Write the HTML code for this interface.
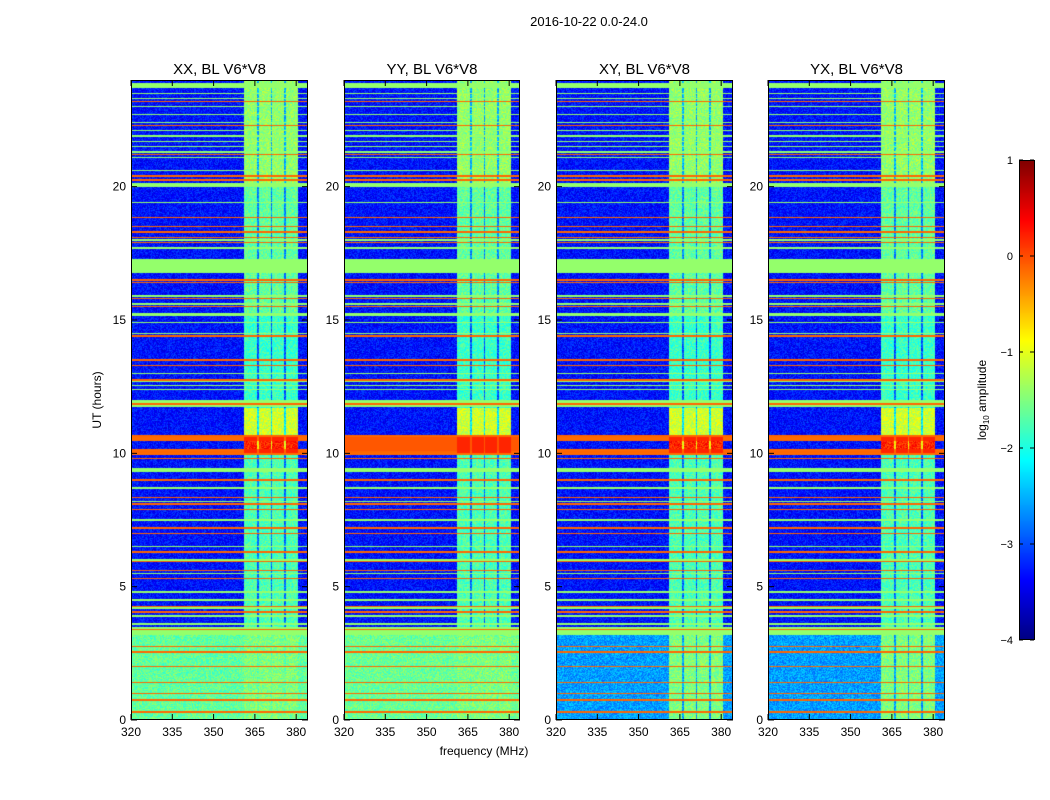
<!DOCTYPE html>
<html><head><meta charset="utf-8">
<style>
body{margin:0;background:#fff;width:1050px;height:800px;overflow:hidden;position:relative;font-family:"Liberation Sans","DejaVu Sans",sans-serif;}
canvas{position:absolute;}
svg{position:absolute;left:0;top:0;}
</style></head><body>
<canvas id="p0" width="177" height="640" style="left:131px;top:80px"></canvas>
<canvas id="p1" width="176" height="640" style="left:344px;top:80px"></canvas>
<canvas id="p2" width="177" height="640" style="left:556px;top:80px"></canvas>
<canvas id="p3" width="177" height="640" style="left:768px;top:80px"></canvas>
<canvas id="cb" width="15" height="480" style="left:1019px;top:160px"></canvas>
<svg id="ax" width="1050" height="800"></svg>
<script>
// ---- data ----
const panelNames = ["XX, BL V6*V8","YY, BL V6*V8","XY, BL V6*V8","YX, BL V6*V8"];
const panelLeft = [131,344,556,768];
const freqTicks = [320,335,350,365,380];
const hourTicks = [0,5,10,15,20];
const cbTicks = [1,0,-1,-2,-3,-4];
const bgLevel = -3.3;
// wide bands [startHour, endHour, level]
const wideBands = [[23.7,23.8,-1.4],[20.0,20.15,-1.4],[16.75,17.3,-1.4],[15.15,15.25,-1.4],[11.75,12.0,-1.4],[9.3,9.45,-1.4],[10.45,10.7,-0.15],[9.95,10.15,-0.15],[3.2,3.5,-1.4]];
// lower region level per panel
const lowRegionLevel = [-1.65,-1.6,-2.6,-2.6];
const lowRegionTop = 3.3;
// YY extra strong band
const yyBand = [10.0,10.65,-0.05];
const greenLines = [23.85,23.5,23.3,23.0,22.7,22.4,22.1,21.9,21.7,21.5,21.3,21.1,20.6,19.4,18.3,18.0,17.7,15.9,15.6,14.9,14.5,13.3,13.0,12.7,12.55,12.4,9.0,8.7,8.2,7.9,7.5,7.2,6.5,6.0,5.5,4.8,4.5,4.2,3.9,3.6];
const redLines = [23.2,22.3,21.2,20.4,20.25,18.85,18.5,18.3,18.1,17.9,16.5,16.4,15.8,15.5,14.4,13.5,13.3,12.75,11.85,10.65,10.05,9.8,9.0,8.35,8.1,7.9,7.2,7.0,6.3,5.95,5.6,5.3,4.25,4.05,3.4,2.75,2.55,2.0,1.4,1.0,0.75,0.3];
// RFI columns [startMHz,endMHz]
const rfiCols = [[361,365.5],[366.2,370.5],[371.2,375.3],[376,380.3]];
// RFI level by hour [start,end,level]
const rfiLevels = [[0,3.3,-1.5],[3.3,10.0,-1.75],[10.0,10.6,0.2],[10.6,11.7,-1.1],[11.7,15.2,-1.85],[15.2,20.0,-1.65],[20.0,24,-1.4]];

// ---- helpers ----
function jet(v){const t=Math.max(0,Math.min(1,(v+4)/5));const c=x=>Math.round(255*Math.max(0,Math.min(1,x)));
return [c(1.5-Math.abs(4*t-3)),c(1.5-Math.abs(4*t-2)),c(1.5-Math.abs(4*t-1))];}
const H=640, hourToY=h=>(24-h)/24*H;
function hash(a,b){let x=(a*374761393+b*668265263)|0;x=(x^(x>>>13))*1274126177|0;return ((x^(x>>>16))>>>0)/4294967296;}
function draw(p){
 const cv=document.getElementById('p'+p),ctx=cv.getContext('2d'),W=cv.width;
 const img=ctx.createImageData(W,H);
 const fx=f=>(f-320)*2.753;
 for(let y=0;y<H;y++){
  const h=24-(y+0.5)/H*24;
  let lv=bgLevel, row=false;
  if(h<lowRegionTop) lv=lowRegionLevel[p];
  for(const b of wideBands) if(h>=b[0]&&h<b[1]){lv=b[2];row=true;}
  if(p==1&&h>=yyBand[0]&&h<yyBand[1]){lv=yyBand[2];row=true;}
  for(const g of greenLines) if(Math.abs(h-g)<0.028){lv=-1.4;row=true;}
  for(const r of redLines) if(Math.abs(h-r)<0.028){lv=-0.12;row=true;}
  let rl=-1.7; for(const r of rfiLevels) if(h>=r[0]&&h<r[1]) rl=r[2];
  if(p>=2&&rl>-0.5&&!(h>=10.0&&h<10.6)) rl=-1.7;
  for(let x=0;x<W;x++){
   let v=lv, inR=false;
   for(const c of rfiCols) if(x>=fx(c[0])&&x<fx(c[1])) inR=true;
   if(inR) v=Math.max(v,rl);
   else if(!row && x>=fx(rfiCols[0][0]) && x<fx(rfiCols[3][1])) v=Math.max(v,rl-1.1);
   if(!row){const n=hash(x+p*1000,y);v+= (n-0.5)*0.6;}
   const col=jet(v),i=(y*W+x)*4;
   img.data[i]=col[0];img.data[i+1]=col[1];img.data[i+2]=col[2];img.data[i+3]=255;
  }
 }
 ctx.putImageData(img,0,0);
}
for(let p=0;p<4;p++) draw(p);
// colorbar
(function(){const c=document.getElementById('cb').getContext('2d');
for(let y=0;y<480;y++){const v=1-y/480*5;const k=jet(v);c.fillStyle=`rgb(${k[0]},${k[1]},${k[2]})`;c.fillRect(0,y,15,1);}})();

// ---- axes svg ----
const svg=document.getElementById('ax'),NS="http://www.w3.org/2000/svg";
function el(tag,attrs,text){const e=document.createElementNS(NS,tag);for(const k in attrs)e.setAttribute(k,attrs[k]);if(text!==undefined)e.textContent=text;svg.appendChild(e);return e;}
let t=el('text',{x:589,y:26,'font-size':13,'text-anchor':'middle'},'2016-10-22 0.0-24.0');


for(let p=0;p<4;p++){
 const L=panelLeft[p],W=(p==1?176:177),T=80,B=720;
 const fr=el('rect',{x:L+0.5,y:T+0.5,width:W-1,height:639,fill:'none',stroke:'#000'});
 
 
 const tt=el('text',{x:L+W/2,y:74,'font-size':15,'text-anchor':'middle'},panelNames[p]);
 
 
 for(const f of freqTicks){const x=L+(f-320)*2.753;
  el('line',{x1:x,x2:x,y1:B,y2:B-6,stroke:'#000'});el('line',{x1:x,x2:x,y1:T,y2:T+6,stroke:'#000'});
  const l=el('text',{x:x,y:B+16,'font-size':12,'text-anchor':'middle'},String(f));
  
  }
 for(const h of hourTicks){const y=T+hourToY(h);
  el('line',{x1:L,x2:L+6,y1:y,y2:y,stroke:'#000'});el('line',{x1:L+W-6,x2:L+W,y1:y,y2:y,stroke:'#000'});
  const l=el('text',{x:L-5,y:y+4,'font-size':12,'text-anchor':'end'},String(h));
  
  }
}
t=el('text',{x:484,y:755,'font-size':12,'text-anchor':'middle'},'frequency (MHz)');


t=el('text',{x:101,y:400,'font-size':12,'text-anchor':'middle',transform:'rotate(-90 101 400)'},'UT (hours)');


const cbf=el('rect',{x:1019.5,y:160.5,width:15,height:479,fill:'none',stroke:'#000'});


for(const v of cbTicks){const y=160+(1-v)/5*480;
 el('line',{x1:1019,x2:1023,y1:y,y2:y,stroke:'#000'});el('line',{x1:1030,x2:1034,y1:y,y2:y,stroke:'#000'});
 const l=el('text',{x:1013,y:y+4,'font-size':11,'text-anchor':'end'},v<0?'\u2212'+(-v):String(v));
 
 }
t=el('text',{x:986,y:400,'font-size':12,'text-anchor':'middle',transform:'rotate(-90 986 400)'});
t.innerHTML='log<tspan font-size="8" dy="3">10</tspan><tspan dy="-3"> amplitude</tspan>';


</script>
</body></html>
